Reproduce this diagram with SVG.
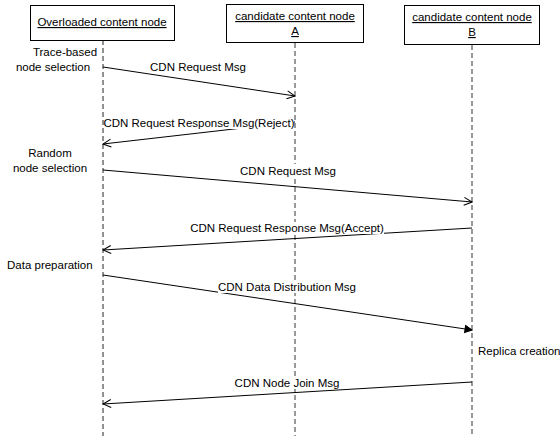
<svg xmlns="http://www.w3.org/2000/svg" width="560" height="436" viewBox="0 0 560 436">
<style>
text{font-family:"Liberation Sans",Arial,sans-serif;font-size:11.5px;fill:#000}
.box{fill:#fff;stroke:#000;stroke-width:1}
.life{stroke:#222;stroke-width:1;stroke-dasharray:5,3;fill:none}
.life2{stroke:#808080;stroke-width:1.6;stroke-dasharray:5,3;fill:none}
.msg{stroke:#000;stroke-width:1;fill:none}
.lbl{fill:#fff}
.u{text-decoration:underline}
</style>
<defs>
<marker id="open" markerWidth="10" markerHeight="10" refX="9" refY="5" orient="auto" markerUnits="userSpaceOnUse"><path d="M1,1 L9,5 L1,9" fill="none" stroke="#000" stroke-width="1"/></marker>
<marker id="fill" markerWidth="10" markerHeight="10" refX="9" refY="5" orient="auto" markerUnits="userSpaceOnUse"><path d="M2,1.5 L9,5 L2,8.5 Z" fill="#000" stroke="#000" stroke-width="1"/></marker>
</defs>
<g id="lifelines">
<line class="life" x1="103" y1="40" x2="103" y2="436"/>
<line class="life2" x1="295" y1="43" x2="295" y2="436"/>
<line class="life2" x1="472" y1="45" x2="472" y2="436"/>
</g>
<g id="node-overloaded">
<rect class="box" x="30.5" y="5.5" width="144" height="35"/>
<text class="u" x="102" y="26" text-anchor="middle">Overloaded content node</text>
</g>
<g id="node-a">
<rect class="box" x="226.5" y="4.5" width="137" height="38"/>
<text class="u" x="295" y="20" text-anchor="middle">candidate content node</text>
<text class="u" x="295" y="35" text-anchor="middle">A</text>
</g>
<g id="node-b">
<rect class="box" x="404.5" y="5.5" width="135" height="39"/>
<text class="u" x="472" y="21" text-anchor="middle">candidate content node</text>
<text class="u" x="472" y="36" text-anchor="middle">B</text>
</g>
<g id="connectors">
<line class="msg" x1="103" y1="67" x2="295" y2="96" marker-end="url(#open)"/>
<line class="msg" x1="295" y1="122" x2="103" y2="144" marker-end="url(#open)"/>
<line class="msg" x1="103" y1="170" x2="472" y2="202" marker-end="url(#open)"/>
<line class="msg" x1="472" y1="228" x2="103" y2="250" marker-end="url(#open)"/>
<line class="msg" x1="103" y1="275" x2="472" y2="330" marker-end="url(#fill)"/>
<line class="msg" x1="472" y1="382" x2="103" y2="404" marker-end="url(#open)"/>
</g>
<g id="labels">
<rect class="lbl" x="150" y="60" width="96" height="12"/>
<text x="198" y="71" text-anchor="middle">CDN Request Msg</text>
<rect class="lbl" x="104" y="117" width="190" height="12"/>
<text x="199" y="127" text-anchor="middle">CDN Request Response Msg(Reject)</text>
<rect class="lbl" x="240" y="164" width="96" height="12"/>
<text x="288" y="175" text-anchor="middle">CDN Request Msg</text>
<rect class="lbl" x="190" y="222" width="194" height="12"/>
<text x="287" y="232" text-anchor="middle">CDN Request Response Msg(Accept)</text>
<rect class="lbl" x="218" y="281" width="138" height="12"/>
<text x="287" y="291" text-anchor="middle">CDN Data Distribution Msg</text>
<rect class="lbl" x="235" y="377" width="104" height="12"/>
<text x="287" y="387" text-anchor="middle">CDN Node Join Msg</text>
</g>
<g id="notes">
<text x="65" y="56" text-anchor="middle">Trace-based</text>
<text x="53" y="71" text-anchor="middle">node selection</text>
<text x="50" y="157" text-anchor="middle">Random</text>
<text x="50" y="172" text-anchor="middle">node selection</text>
<text x="7" y="269">Data preparation</text>
<text x="478" y="355">Replica creation</text>
</g>
</svg>
